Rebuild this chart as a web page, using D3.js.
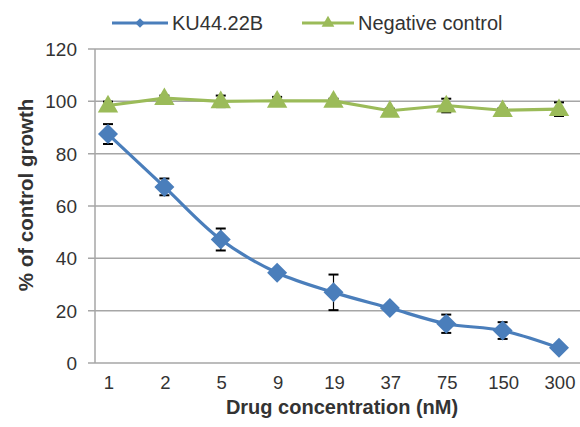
<!DOCTYPE html>
<html>
<head>
<meta charset="utf-8">
<script src="https://cdn.jsdelivr.net/npm/d3@7"></script>
<style>
  body { margin: 0; background: #fff; }
  svg { display: block; }
</style>
</head>
<body>
<svg id="chart" width="580" height="427"></svg>
<script>
const concentrations = ["1", "2", "5", "9", "19", "37", "75", "150", "300"];
const kuValues = [87.5, 67.3, 47.2, 34.5, 27.0, 21.0, 15.0, 12.4, 5.8];
const kuErrors = [3.8, 3.2, 4.2, 1.0, 6.8, 1.0, 3.5, 3.2, 1.0];
const negValues = [98.4, 101.2, 100.0, 100.2, 100.2, 96.4, 98.4, 96.6, 97.0];
const negErrors = [1.5, 1.0, 2.2, 1.5, 0.8, 0.8, 2.6, 0.8, 2.6];
const yTicks = [0, 20, 40, 60, 80, 100, 120];

const fontFamily = `"Liberation Sans", Arial, sans-serif`;
const blue = "#4a7ebb";
const green = "#9bbb59";
const gridColor = "#a6a6a6";
const textColor = "#333";

const svg = d3.select("#chart").attr("font-family", fontFamily);

const x = d3.scalePoint().domain(concentrations).range([108, 559]);
const y = d3.scaleLinear().domain([0, 120]).range([363, 49]);
const axisX = 95;

// diamond = square turned 45deg, Excel style
const diamond = {
  draw(ctx, size) {
    const r = Math.sqrt(size / 2);
    ctx.moveTo(0, -r);
    ctx.lineTo(r, 0);
    ctx.lineTo(0, r);
    ctx.lineTo(-r, 0);
    ctx.closePath();
  },
};

// gridlines
svg
  .append("g")
  .attr("id", "grid")
  .selectAll("line")
  .data(yTicks)
  .enter()
  .append("line")
  .attr("x1", axisX - 7)
  .attr("x2", 580)
  .attr("y1", (d) => y(d))
  .attr("y2", (d) => y(d))
  .attr("stroke", gridColor)
  .attr("stroke-width", 1.5);

// vertical axis line
svg
  .append("line")
  .attr("x1", axisX)
  .attr("x2", axisX)
  .attr("y1", y(120))
  .attr("y2", y(0))
  .attr("stroke", gridColor)
  .attr("stroke-width", 1.5);

// y tick labels
svg
  .append("g")
  .attr("id", "y-labels")
  .attr("text-anchor", "end")
  .attr("font-size", 19)
  .attr("fill", textColor)
  .selectAll("text")
  .data(yTicks)
  .enter()
  .append("text")
  .attr("x", 77)
  .attr("y", (d) => y(d))
  .attr("dy", "0.36em")
  .text((d) => d);

// x tick labels
svg
  .append("g")
  .attr("id", "x-labels")
  .attr("text-anchor", "middle")
  .attr("font-size", 18.5)
  .attr("fill", textColor)
  .selectAll("text")
  .data(concentrations)
  .enter()
  .append("text")
  .attr("x", (d) => x(d) + 1)
  .attr("y", 389)
  .text((d) => d);

// axis titles
svg
  .append("text")
  .attr("x", 342)
  .attr("y", 414)
  .attr("text-anchor", "middle")
  .attr("font-size", 20)
  .attr("font-weight", "bold")
  .attr("fill", textColor)
  .text("Drug concentration (nM)");

svg
  .append("text")
  .attr("transform", "translate(33, 195) rotate(-90)")
  .attr("text-anchor", "middle")
  .attr("font-size", 20.5)
  .attr("font-weight", "bold")
  .attr("fill", textColor)
  .text("% of control growth");

const series = [
  { name: "Negative control", values: negValues, errors: negErrors, color: green, marker: d3.symbolTriangle, size: 180, dy: 1, curve: d3.curveLinear },
  { name: "KU44.22B", values: kuValues, errors: kuErrors, color: blue, marker: diamond, size: 200, dy: 0, curve: d3.curveCatmullRom },
];

function drawSeries(s) {
  const pts = concentrations.map((c, i) => ({ c, v: s.values[i], e: s.errors[i] }));
  const g = svg.append("g").attr("class", "series");

  const line = d3
    .line()
    .x((d) => x(d.c))
    .y((d) => y(d.v))
    .curve(s.curve);

  g.append("path")
    .datum(pts)
    .attr("d", line)
    .attr("fill", "none")
    .attr("stroke", s.color)
    .attr("stroke-width", 3.2);

  // error bars
  const eb = g.append("g").attr("stroke", "#000").attr("stroke-width", 1.2);
  pts.forEach((d) => {
    const cx = x(d.c);
    eb.append("line").attr("x1", cx).attr("x2", cx).attr("y1", y(d.v + d.e)).attr("y2", y(d.v - d.e));
    [d.v + d.e, d.v - d.e].forEach((v) => {
      eb.append("line").attr("x1", cx - 5).attr("x2", cx + 5).attr("y1", y(v)).attr("y2", y(v)).attr("stroke-width", 2);
    });
  });

  g.selectAll(".marker")
    .data(pts)
    .enter()
    .append("path")
    .attr("class", "marker")
    .attr("d", d3.symbol().type(s.marker).size(s.size))
    .attr("transform", (d) => `translate(${x(d.c)}, ${y(d.v) + s.dy})`)
    .attr("fill", s.color);
}

series.forEach(drawSeries);

// legend
const legendItems = [
  { name: "KU44.22B", color: blue, marker: diamond, x1: 112, x2: 168, size: 45 },
  { name: "Negative control", color: green, marker: d3.symbolTriangle, x1: 302, x2: 354, size: 70 },
];
const legend = svg.append("g").attr("id", "legend").attr("font-size", 20).attr("fill", textColor);
legendItems.forEach((d) => {
  const ly = 23;
  legend.append("line").attr("x1", d.x1).attr("x2", d.x2).attr("y1", ly).attr("y2", ly).attr("stroke", d.color).attr("stroke-width", 3);
  legend
    .append("path")
    .attr("d", d3.symbol().type(d.marker).size(d.size))
    .attr("transform", `translate(${(d.x1 + d.x2) / 2}, ${ly})`)
    .attr("fill", d.color);
  legend.append("text").attr("x", d.x2 + 4).attr("y", ly).attr("dy", "0.36em").text(d.name);
});
</script>
</body>
</html>
